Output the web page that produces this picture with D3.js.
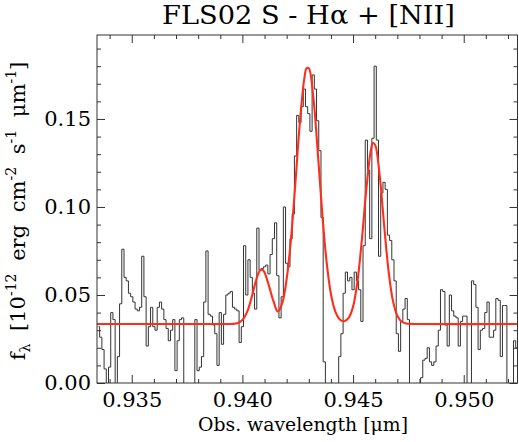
<html>
<head>
  <title>FLS02 S - Halpha + [NII]</title>
  <script src="https://cdn.jsdelivr.net/npm/d3@7"></script>
  <style>
    body { margin: 0; background: #fff; }
    text { font-family: "DejaVu Serif", serif; fill: #000; }
  </style>
</head>
<body>
  <div id="spectrum_graph"></div>
  <script>
    // binned spectrum: bin centres [micron] and flux [1e-12 erg/cm2/s/micron]
    const wave = [
      0.9335, 0.9336, 0.9337, 0.9338, 0.9339, 0.9340, 0.9341, 0.9342, 0.9343, 0.9344,
      0.9345, 0.9346, 0.9347, 0.9348, 0.9349, 0.9350, 0.9351, 0.9352, 0.9353, 0.9354,
      0.9355, 0.9356, 0.9357, 0.9358, 0.9359, 0.9360, 0.9361, 0.9362, 0.9363, 0.9364,
      0.9365, 0.9366, 0.9367, 0.9368, 0.9369, 0.9370, 0.9371, 0.9372, 0.9373, 0.9374,
      0.9375, 0.9376, 0.9377, 0.9378, 0.9379, 0.9380, 0.9381, 0.9382, 0.9383, 0.9384,
      0.9385, 0.9386, 0.9387, 0.9388, 0.9389, 0.9390, 0.9391, 0.9392, 0.9393, 0.9394,
      0.9395, 0.9396, 0.9397, 0.9398, 0.9399, 0.9400, 0.9401, 0.9402, 0.9403, 0.9404,
      0.9405, 0.9406, 0.9407, 0.9408, 0.9409, 0.9410, 0.9411, 0.9412, 0.9413, 0.9414,
      0.9415, 0.9416, 0.9417, 0.9418, 0.9419, 0.9420, 0.9421, 0.9422, 0.9423, 0.9424,
      0.9425, 0.9426, 0.9427, 0.9428, 0.9429, 0.9430, 0.9431, 0.9432, 0.9433, 0.9434,
      0.9435, 0.9436, 0.9437, 0.9438, 0.9439, 0.9440, 0.9441, 0.9442, 0.9443, 0.9444,
      0.9445, 0.9446, 0.9447, 0.9448, 0.9449, 0.9450, 0.9451, 0.9452, 0.9453, 0.9454,
      0.9455, 0.9456, 0.9457, 0.9458, 0.9459, 0.9460, 0.9461, 0.9462, 0.9463, 0.9464,
      0.9465, 0.9466, 0.9467, 0.9468, 0.9469, 0.9470, 0.9471, 0.9472, 0.9473, 0.9474,
      0.9475, 0.9476, 0.9477, 0.9478, 0.9479, 0.9480, 0.9481, 0.9482, 0.9483, 0.9484,
      0.9485, 0.9486, 0.9487, 0.9488, 0.9489, 0.9490, 0.9491, 0.9492, 0.9493, 0.9494,
      0.9495, 0.9496, 0.9497, 0.9498, 0.9499, 0.9500, 0.9501, 0.9502, 0.9503, 0.9504,
      0.9505, 0.9506, 0.9507, 0.9508, 0.9509, 0.9510, 0.9511, 0.9512, 0.9513, 0.9514,
      0.9515, 0.9516, 0.9517, 0.9518, 0.9519, 0.9520, 0.9521, 0.9522, 0.9523, 0.9524,
      0.9525
    ];
    const flux = [
      0.032, 0.026, 0.019, 0.008, -0.005, 0.009, 0.040, 0.036, -0.005, 0.015,
      0.045, 0.076, 0.060, 0.058, 0.051, 0.049, 0.046, 0.042, 0.041, 0.043,
      0.072, 0.049, 0.021, 0.032, 0.043, 0.032, 0.030, 0.043, 0.046, 0.042,
      0.036, 0.031, 0.024, 0.030, 0.036, 0.007, 0.024, 0.036, 0.037, -0.010,
      -0.015, -0.015, -0.015, -0.010, 0.036, 0.007, 0.009, 0.015, 0.046, 0.075,
      0.039, 0.038, 0.033, 0.028, 0.010, 0.040, 0.022, 0.039, 0.050, 0.051,
      0.052, 0.043, 0.042, 0.041, 0.023, 0.032, 0.078, 0.050, 0.070, 0.060,
      0.051, 0.042, 0.088, 0.064, 0.065, 0.066, 0.067, 0.062, 0.073, 0.082,
      0.091, 0.061, 0.037, 0.049, 0.100, 0.068, 0.066, 0.082, 0.096, 0.129,
      0.152, 0.148, 0.157, 0.167, 0.157, 0.153, 0.143, 0.175, 0.167, 0.149,
      0.132, 0.094, 0.012, -0.010, -0.015, -0.015, -0.015, -0.010, -0.005, 0.015,
      0.028, 0.051, 0.063, 0.058, 0.060, 0.053, 0.063, 0.058, 0.053, 0.035,
      0.078, 0.138, 0.121, 0.082, 0.139, 0.180, 0.138, 0.072, 0.108, 0.114,
      0.110, 0.084, 0.081, 0.070, 0.058, 0.028, 0.018, 0.035, 0.042, 0.048,
      0.036, -0.010, -0.010, -0.010, -0.005, -0.002, 0.003, 0.013, 0.014, 0.020,
      0.012, 0.010, 0.012, 0.021, 0.030, 0.053, 0.052, 0.033, 0.021, 0.050,
      0.041, 0.038, 0.037, 0.021, 0.035, 0.038, 0.038, -0.005, -0.010, 0.058,
      0.056, 0.043, 0.019, 0.030, 0.031, 0.040, 0.046, 0.026, 0.026, 0.030,
      0.048, 0.047, 0.015, 0.044, 0.044, -0.005, -0.010, -0.010, 0.024, 0.020,
      0.020
    ];

    // fitted continuum + lines
    const fitWave = [
      0.9334, 0.9390, 0.9392, 0.9394, 0.9396, 0.9398, 0.9400, 0.9402, 0.9404, 0.9406,
      0.9407, 0.9408, 0.9409, 0.9410, 0.9412, 0.9414, 0.9416, 0.9418, 0.9420, 0.9422,
      0.9424, 0.9426, 0.9428, 0.9429, 0.9430, 0.9432, 0.9434, 0.9436, 0.9438, 0.9440,
      0.9442, 0.9444, 0.9446, 0.9448, 0.9450, 0.9452, 0.9454, 0.9456, 0.9458, 0.9459,
      0.9460, 0.9462, 0.9464, 0.9466, 0.9468, 0.9470, 0.9472, 0.9474, 0.9476, 0.9478,
      0.9525
    ];
    const fitFlux = [
      0.0335, 0.0335, 0.0335, 0.0335, 0.0336, 0.0341, 0.0358, 0.0400, 0.0479, 0.0576,
      0.0616, 0.0640, 0.0645, 0.0628, 0.0552, 0.0466, 0.0406, 0.0454, 0.0591, 0.0825,
      0.1146, 0.1486, 0.1732, 0.1788, 0.1788, 0.1628, 0.1320, 0.0977, 0.0693, 0.0506,
      0.0405, 0.0361, 0.0351, 0.0370, 0.0434, 0.0579, 0.0817, 0.1102, 0.1319, 0.1363,
      0.1352, 0.1181, 0.0902, 0.0641, 0.0468, 0.0382, 0.0348, 0.0338, 0.0336, 0.0335,
      0.0335
    ];

    const xMajorTicks = [0.935, 0.940, 0.945, 0.950];
    const xMinorTicks = [0.934, 0.936, 0.937, 0.938, 0.939, 0.941, 0.942, 0.943, 0.944,
      0.946, 0.947, 0.948, 0.949, 0.951, 0.952];
    const yMajorTicks = [0.00, 0.05, 0.10, 0.15];
    const yMinorTicks = [0.01, 0.02, 0.03, 0.04, 0.06, 0.07, 0.08, 0.09, 0.11, 0.12,
      0.13, 0.14, 0.16, 0.17, 0.18, 0.19];

    const margin = { top: 35, right: 1.5, bottom: 59, left: 97 },
      width = 519 - margin.left - margin.right,
      height = 442 - margin.top - margin.bottom;

    const svg = d3.select("#spectrum_graph")
      .append("svg")
      .attr("width", 519)
      .attr("height", 442);

    const g = svg.append("g")
      .attr("transform", `translate(${margin.left},${margin.top})`);

    const x = d3.scaleLinear().domain([0.93343, 0.95243]).range([0, width]);
    const y = d3.scaleLinear().domain([0, 0.1977]).range([height, 0]);

    g.append("clipPath").attr("id", "plotclip")
      .append("rect").attr("width", width).attr("height", height);

    // spectrum, drawn as a histogram
    g.append("path")
      .datum(d3.zip(wave, flux))
      .attr("clip-path", "url(#plotclip)")
      .attr("fill", "none")
      .attr("stroke", "#333")
      .attr("stroke-width", 1)
      .attr("d", d3.line().x(d => x(d[0])).y(d => y(d[1])).curve(d3.curveStep));

    // fit
    g.append("path")
      .datum(d3.zip(fitWave, fitFlux))
      .attr("clip-path", "url(#plotclip)")
      .attr("fill", "none")
      .attr("stroke", "#ff2d1c")
      .attr("stroke-width", 2.1)
      .attr("d", d3.line().x(d => x(d[0])).y(d => y(d[1])).curve(d3.curveCatmullRom));

    // axes: ticks point inward on all four sides
    const axisColor = "#333";
    function styleAxis(sel) {
      sel.select(".domain").remove();
      sel.selectAll("line").attr("stroke", axisColor);
      sel.selectAll("text").attr("font-size", 21).attr("font-family", "DejaVu Serif");
    }
    g.append("g").attr("transform", `translate(0,${height})`)
      .call(d3.axisBottom(x).tickValues(xMajorTicks).tickSize(-8).tickPadding(9).tickFormat(d3.format(".3f")))
      .call(styleAxis);
    g.append("g").attr("transform", `translate(0,${height})`)
      .call(d3.axisBottom(x).tickValues(xMinorTicks).tickSize(-4).tickFormat(""))
      .call(styleAxis);
    g.append("g")
      .call(d3.axisTop(x).tickValues(xMajorTicks).tickSize(-8).tickFormat(""))
      .call(styleAxis);
    g.append("g")
      .call(d3.axisTop(x).tickValues(xMinorTicks).tickSize(-4).tickFormat(""))
      .call(styleAxis);
    g.append("g")
      .call(d3.axisLeft(y).tickValues(yMajorTicks).tickSize(-8).tickPadding(6).tickFormat(d3.format(".2f")))
      .call(styleAxis);
    g.append("g")
      .call(d3.axisLeft(y).tickValues(yMinorTicks).tickSize(-4).tickFormat(""))
      .call(styleAxis);
    g.append("g").attr("transform", `translate(${width},0)`)
      .call(d3.axisRight(y).tickValues(yMajorTicks).tickSize(-8).tickFormat(""))
      .call(styleAxis);
    g.append("g").attr("transform", `translate(${width},0)`)
      .call(d3.axisRight(y).tickValues(yMinorTicks).tickSize(-4).tickFormat(""))
      .call(styleAxis);

    g.append("rect")
      .attr("width", width).attr("height", height)
      .attr("fill", "none").attr("stroke", axisColor).attr("stroke-width", 1);

    // titles
    svg.append("text")
      .attr("x", 308.5).attr("y", 24)
      .attr("text-anchor", "middle").attr("font-size", 26)
      .attr("textLength", 293).attr("lengthAdjust", "spacingAndGlyphs")
      .text("FLS02 S - H\u03b1 + [NII]");

    svg.append("text")
      .attr("x", 303).attr("y", 431)
      .attr("text-anchor", "middle").attr("font-size", 19)
      .attr("textLength", 210).attr("lengthAdjust", "spacingAndGlyphs")
      .text("Obs. wavelength [\u03bcm]");

    const yt = svg.append("text")
      .attr("transform", "translate(25,211) rotate(-90)")
      .attr("text-anchor", "middle").attr("font-size", 21).attr("word-spacing", 6);
    yt.append("tspan").text("f");
    yt.append("tspan").attr("dy", 5).attr("font-size", 14).text("\u03bb");
    yt.append("tspan").attr("dy", -5).text(" [10");
    yt.append("tspan").attr("dy", -9).attr("font-size", 14).text("-12");
    yt.append("tspan").attr("dy", 9).text(" erg cm");
    yt.append("tspan").attr("dy", -9).attr("font-size", 14).text("-2");
    yt.append("tspan").attr("dy", 9).text(" s");
    yt.append("tspan").attr("dy", -9).attr("font-size", 14).text("-1");
    yt.append("tspan").attr("dy", 9).text(" \u03bcm");
    yt.append("tspan").attr("dy", -9).attr("font-size", 14).text("-1");
    yt.append("tspan").attr("dy", 9).text("]");
  </script>
</body>
</html>
